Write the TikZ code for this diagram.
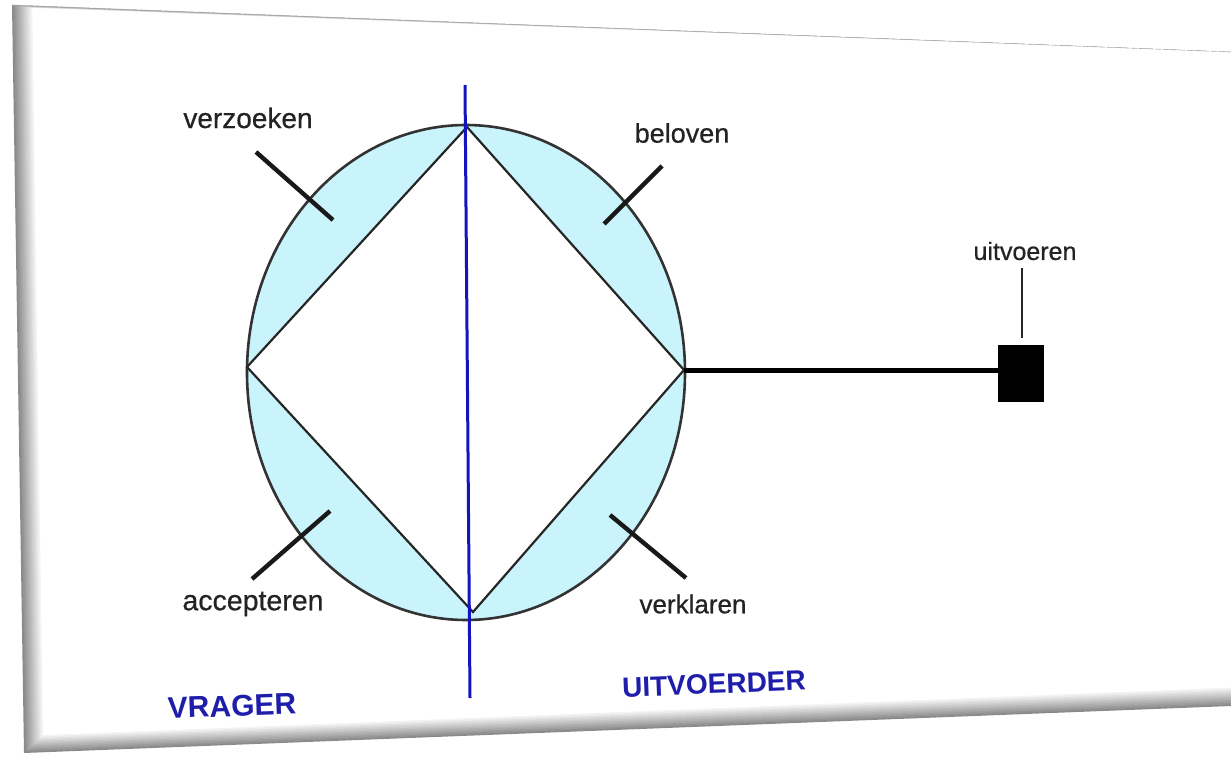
\documentclass[tikz,border=0pt]{standalone}
\usepackage{fontspec}
\setmainfont{Liberation Sans}
\newfontfamily\labfont[FakeBold=0.6]{Liberation Sans}
\definecolor{lcyan}{RGB}{202,244,251}
\definecolor{dblue}{RGB}{20,20,190}
\definecolor{tblue}{RGB}{30,30,170}
\definecolor{lbl}{RGB}{35,35,35}
\tikzset{
  lab/.style={text=lbl, inner sep=0pt, font=\labfont\fontsize{27}{30}\selectfont},
  biglab/.style={text=tblue, inner sep=0pt, font=\bfseries\fontsize{30}{34}\selectfont},
  tick/.style={line width=4.4pt, black!90},
  outline/.style={line width=2.6pt, black!80},
}
\begin{document}
\begin{tikzpicture}[x=1pt,y=-1pt]
\useasboundingbox (0,0) rectangle (1231,757);
% card with bevel
\foreach \k in {0,...,12} {
  \pgfmathsetmacro\g{max(0,46-3.8*\k)}
  \fill[black!\g] (12+1.7*\k,5+0.25*\k) -- (1231,52+0.02*\k) -- (1231,706-1.55*\k) -- (24+1.6*\k,753-1.5*\k) -- cycle;
}
\fill[white] (32.4,8) -- (1231,52.3) -- (1231,687.4) -- (43.2,735) -- cycle;
\draw[black!30, line width=0.6pt, dash pattern=on 6pt off 2pt] (12,5) -- (1231,52);
% ellipse and diamond
\coordinate (C) at (466,372.5);
\coordinate (T) at (467,127);
\coordinate (L) at (247,367);
\coordinate (B) at (473,612);
\coordinate (R) at (684,370);
\fill[lcyan] (C) ellipse [x radius=219, y radius=247.5];
\fill[white] (T) -- (L) -- (B) -- (R) -- cycle;
\draw[outline] (C) ellipse [x radius=219, y radius=247.5];
\draw[line width=2.2pt, black!85, line join=miter] (T) -- (L) -- (B) -- (R) -- cycle;
% blue divider
\coordinate (bt) at (465,85);
\coordinate (bb) at (470,698);
\draw[dblue, line width=3pt] (bt) -- (bb);
% labels
\node[lab, font=\labfont\fontsize{28}{32}\selectfont] (verz) at (248,118) {verzoeken};
\node[lab] (bel) at (682,133) {beloven};
\node[lab, font=\labfont\fontsize{28.5}{32}\selectfont] (acc) at (253,604) {accepteren};
\node[lab, font=\labfont\fontsize{26}{30}\selectfont] (verk) at (693,604) {verklaren};
\node[lab, font=\labfont\fontsize{25}{28}\selectfont] (uit) at (1025,251) {uitvoeren};
\node[biglab, rotate=2] (vrager) at (232,706) {VRAGER};
\node[biglab, font=\bfseries\fontsize{28}{32}\selectfont, rotate=2.2] (uitv) at (714,684) {UITVOERDER};
% ticks
\coordinate (v1) at (256,152); \coordinate (v2) at (333,220);
\coordinate (b1) at (662,166); \coordinate (b2) at (604,224);
\coordinate (a1) at (252,579); \coordinate (a2) at (330,511);
\coordinate (k1) at (686,578); \coordinate (k2) at (610,515);
\draw[tick] (v1) -- (v2);
\draw[tick] (b1) -- (b2);
\draw[tick] (a1) -- (a2);
\draw[tick] (k1) -- (k2);
% execution square
\node[fill=black, minimum width=46pt, minimum height=57pt, inner sep=0pt, outer sep=0pt] (sq) at (1021,373.5) {};
\draw[line width=5pt] (R) -- (R -| sq.west);
\coordinate (u1) at (1022,268);
\coordinate (u2) at (1022,338);
\draw[line width=1.8pt, black!85] (u1) -- (u2);
\end{tikzpicture}
\end{document}
